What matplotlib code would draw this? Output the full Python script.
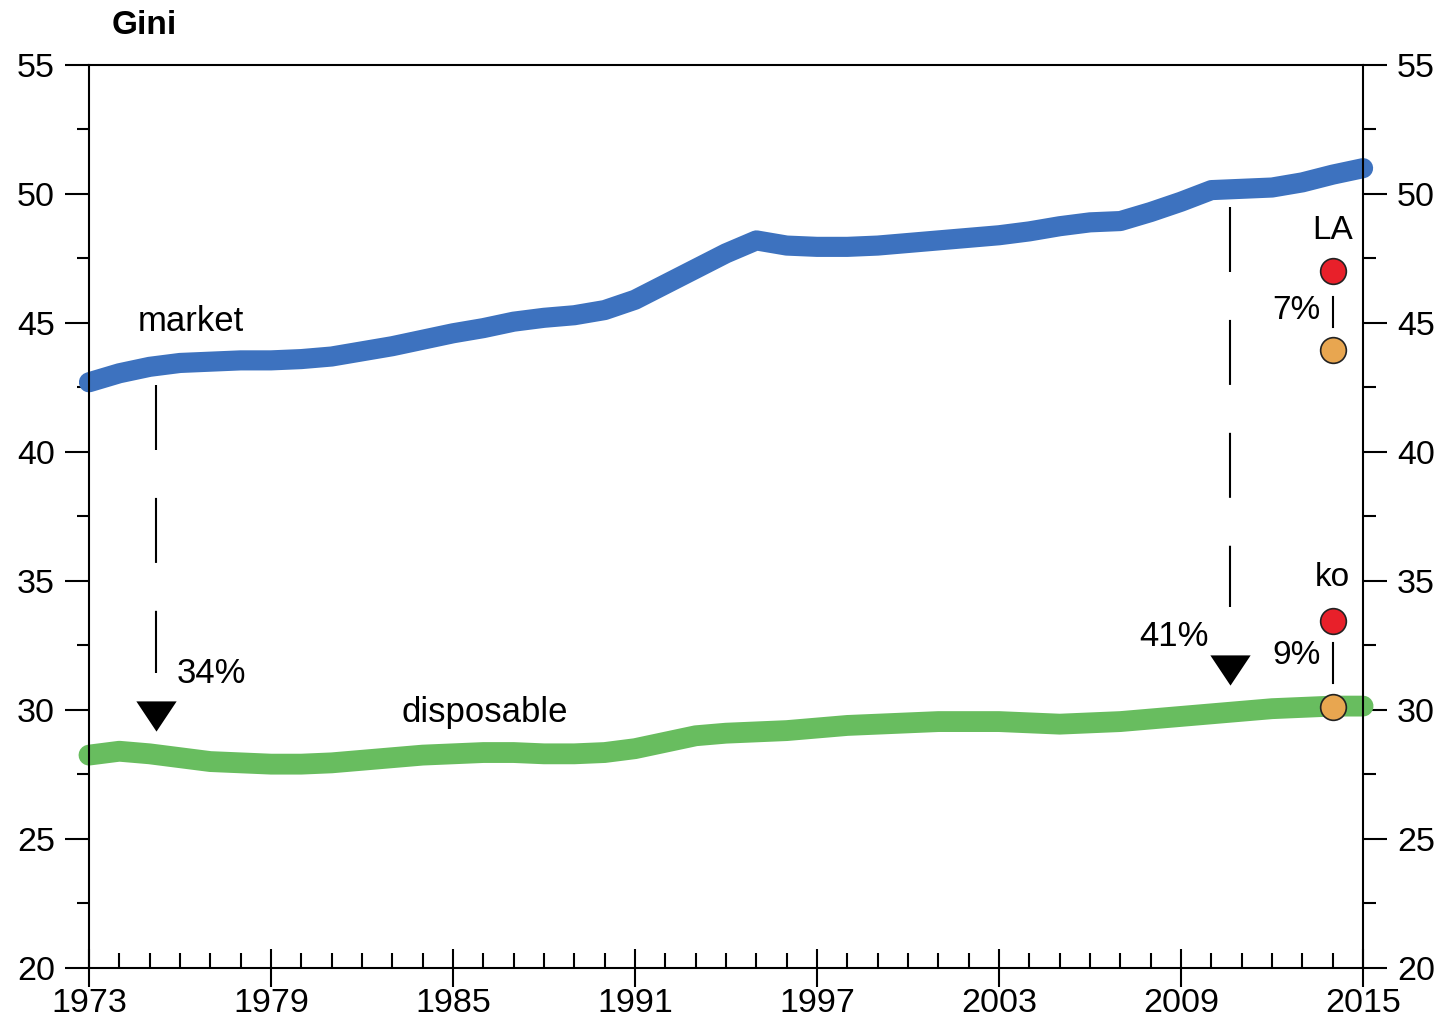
# Gini coefficient: market vs disposable income, 1973-2015
import matplotlib
matplotlib.use("Agg")
import matplotlib.pyplot as plt
from matplotlib.ticker import MultipleLocator, FixedLocator

plt.rcParams['font.family'] = ['Liberation Sans', 'DejaVu Sans']

# Data
years = list(range(1973, 2016))
market = [42.7, 43.05, 43.3, 43.45, 43.5, 43.55, 43.55, 43.6, 43.7, 43.9,
          44.1, 44.35, 44.6, 44.8, 45.05, 45.2, 45.3, 45.5, 45.9, 46.5,
          47.1, 47.7, 48.2, 48.0, 47.95, 47.95, 48.0, 48.1, 48.2, 48.3,
          48.4, 48.55, 48.75, 48.9, 48.95, 49.3, 49.7, 50.15, 50.2, 50.25,
          50.45, 50.75, 51.0]
disposable = [28.25, 28.4, 28.3, 28.15, 28.0, 27.95, 27.9, 27.9, 27.95, 28.05,
              28.15, 28.25, 28.3, 28.35, 28.35, 28.3, 28.3, 28.35, 28.5, 28.75,
              29.0, 29.1, 29.15, 29.2, 29.3, 29.4, 29.45, 29.5, 29.55, 29.55,
              29.55, 29.5, 29.45, 29.5, 29.55, 29.65, 29.75, 29.85, 29.95, 30.05,
              30.1, 30.15, 30.15]

# reduction arrows: x position, top of dashed line, bottom, arrow head, label
drop_x = [1975.2, 2010.6]
drop_top = [42.6, 49.5]
drop_bottom = [31.45, 34.0]
drop_head = [29.77, 31.55]
drop_labels = ["34%", "41%"]

# other countries in 2014
country_names = ["LA", "ko"]
country_year = 2014
country_market = [47.0, 33.45]
country_disp = [43.95, 30.1]
country_pct = ["7%", "9%"]

blue = "#3d72bf"
green = "#68bd5f"
red = "#e8202a"
orange = "#e8a650"

fig = plt.figure(figsize=(14.49, 10.28), dpi=100)
ax = fig.add_axes([0.0614, 0.0584, 0.8793, 0.8784])

ax.plot(years, market, color=blue, lw=14.5, solid_capstyle='round',
        solid_joinstyle='round', zorder=2, clip_on=False)
ax.plot(years, disposable, color=green, lw=15, solid_capstyle='round',
        solid_joinstyle='round', zorder=2, clip_on=False)

# dashed drops with triangle heads
tri = [(-1, 0.75), (1, 0.75), (0, -0.75)]
for i in range(2):
    ax.plot([drop_x[i], drop_x[i]], [drop_top[i], drop_bottom[i]], color='black',
            lw=1.5, dashes=(31.2, 23.0), zorder=3)
    ax.plot(drop_x[i], drop_head[i], marker=tri, markersize=29, color='black',
            markeredgewidth=0, zorder=3)
ax.text(1975.9, 31.4, drop_labels[0], fontsize=25, ha='left', va='center')
ax.text(2009.9, 32.85, drop_labels[1], fontsize=25, ha='right', va='center')

ax.text(1974.6, 45.05, "market", fontsize=25, ha='left', va='center')
ax.text(1983.3, 29.9, "disposable", fontsize=25, ha='left', va='center')

# country dots
label_y = [48.6, 35.15]
link_top = [46.0, 32.6]
link_bottom = [44.85, 31.05]
pct_y = [45.5, 32.1]
for i in range(2):
    ax.plot([country_year, country_year], [link_top[i], link_bottom[i]],
            color='black', lw=1.5, zorder=3)
    ax.plot(country_year, country_market[i], 'o', color=red, markersize=18.5,
            markeredgecolor='#222222', markeredgewidth=1.2, zorder=4)
    ax.plot(country_year, country_disp[i], 'o', color=orange, markersize=18.5,
            markeredgecolor='#222222', markeredgewidth=1.2, zorder=4)
    ax.text(country_year, label_y[i], country_names[i], fontsize=24,
            ha='center', va='center')
    ax.text(country_year - 0.4, pct_y[i], country_pct[i], fontsize=24,
            ha='right', va='center')

# axes
ax.set_xlim(1973, 2015)
ax.set_ylim(20, 55)
ax.xaxis.set_major_locator(FixedLocator(list(range(1973, 2016, 6))))
ax.xaxis.set_minor_locator(MultipleLocator(1))
ax.yaxis.set_major_locator(MultipleLocator(5))
ax.yaxis.set_minor_locator(MultipleLocator(2.5))

for s in ax.spines.values():
    s.set_linewidth(1.5)

ax.tick_params(axis='x', which='major', direction='inout', length=27, width=1.5,
               labelsize=24.5, pad=1, top=False)
ax.tick_params(axis='x', which='minor', direction='in', length=11, width=1.5,
               top=False)
ax.tick_params(axis='y', which='major', direction='out', length=17.5, width=1.5,
               labelsize=24.5, left=True, right=True, labelleft=True,
               labelright=True, pad=7)
ax.tick_params(axis='y', which='minor', direction='out', length=9, width=1.5,
               left=True, right=True)

fig.text(112 / 1449, 1 - 25 / 1028, "Gini", fontsize=24, fontweight='bold',
         ha='left', va='center')

fig.savefig("out.png", dpi=100)
